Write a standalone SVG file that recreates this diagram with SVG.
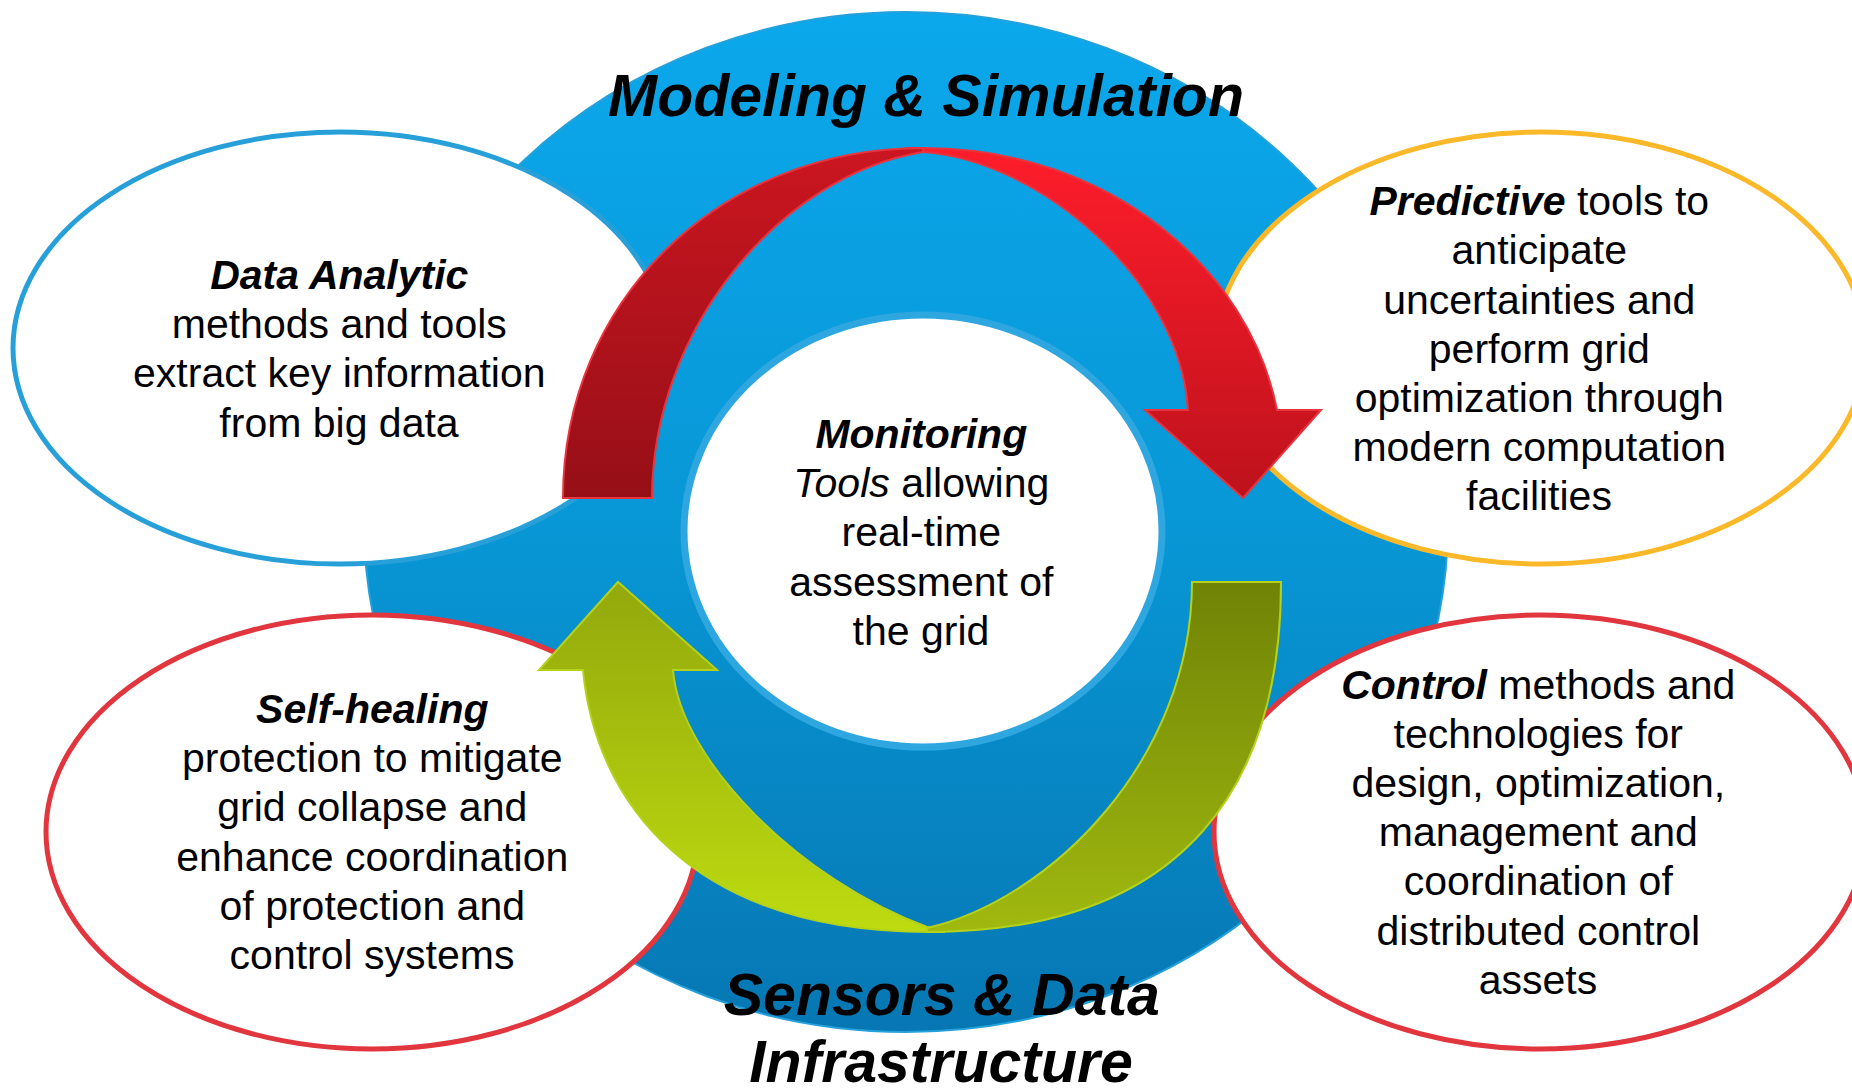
<svg xmlns="http://www.w3.org/2000/svg" width="1852" height="1090" viewBox="0 0 1852 1090">
  <defs>
    <linearGradient id="ringFill" x1="0" y1="0" x2="0" y2="1">
      <stop offset="0" stop-color="#0ba8ec"/>
      <stop offset="0.5" stop-color="#0897d6"/>
      <stop offset="1" stop-color="#0677b3"/>
    </linearGradient>
    <linearGradient id="redMain" gradientUnits="userSpaceOnUse" x1="0" y1="148" x2="0" y2="498">
      <stop offset="0" stop-color="#ff1d2b"/>
      <stop offset="1" stop-color="#bd121c"/>
    </linearGradient>
    <linearGradient id="redBack" gradientUnits="userSpaceOnUse" x1="0" y1="148" x2="0" y2="498">
      <stop offset="0" stop-color="#cb1620"/>
      <stop offset="1" stop-color="#960f17"/>
    </linearGradient>
    <linearGradient id="greenMain" gradientUnits="userSpaceOnUse" x1="0" y1="582" x2="0" y2="932">
      <stop offset="0" stop-color="#93a80c"/>
      <stop offset="1" stop-color="#bddb10"/>
    </linearGradient>
    <linearGradient id="greenBack" gradientUnits="userSpaceOnUse" x1="0" y1="582" x2="0" y2="932">
      <stop offset="0" stop-color="#708306"/>
      <stop offset="1" stop-color="#a0b90f"/>
    </linearGradient>
    <style>
      .bubble { fill: #ffffff; stroke-width: 5; }
      .body { font-family: "Liberation Sans", Arial, sans-serif; font-size: 41px; fill: #000000; text-anchor: middle; }
      .key { font-weight: bold; font-style: italic; }
      .it { font-style: italic; }
      .title { font-family: "Liberation Sans", Arial, sans-serif; font-size: 59px; font-weight: bold; font-style: italic; fill: #000000; text-anchor: middle; }
      .red-edge { stroke: #e8343f; stroke-width: 2; stroke-linejoin: miter; }
      .green-edge { stroke: #b4d21c; stroke-width: 2; stroke-linejoin: miter; }
    </style>
  </defs>

  <rect width="1852" height="1090" fill="#ffffff"/>

  <!-- blue ring behind everything -->
  <g id="ring">
    <ellipse cx="906" cy="522" rx="542" ry="510" fill="url(#ringFill)" stroke="#25a0db" stroke-width="2"/>
  </g>

  <g id="node-monitoring">
    <ellipse cx="923" cy="531" rx="239" ry="216" fill="#ffffff" stroke="#2ea6df" stroke-width="7"/>
    <text class="body">
      <tspan x="927" y="448" class="key">Monitoring</tspan>
      <tspan x="927" y="497"><tspan class="it">Tools</tspan> allowing</tspan>
      <tspan x="927" y="546">real-time</tspan>
      <tspan x="927" y="596">assessment of</tspan>
      <tspan x="921" y="645">the grid</tspan>
    </text>
  </g>

  <g id="node-data-analytic">
    <ellipse class="bubble" cx="340" cy="348" rx="327" ry="216" stroke="#27a0d9"/>
    <text class="body">
      <tspan x="345" y="289" class="key">Data Analytic</tspan>
      <tspan x="345" y="338">methods and tools</tspan>
      <tspan x="345" y="387">extract key information</tspan>
      <tspan x="339" y="437">from big data</tspan>
    </text>
  </g>

  <g id="node-predictive">
    <ellipse class="bubble" cx="1541" cy="348" rx="325" ry="216" stroke="#fbb829"/>
    <text class="body">
      <tspan x="1545" y="215"><tspan class="key">Predictive</tspan> tools to</tspan>
      <tspan x="1545" y="264">anticipate</tspan>
      <tspan x="1545" y="314">uncertainties and</tspan>
      <tspan x="1545" y="363">perform grid</tspan>
      <tspan x="1545" y="412">optimization through</tspan>
      <tspan x="1545" y="461">modern computation</tspan>
      <tspan x="1539" y="510">facilities</tspan>
    </text>
  </g>

  <g id="node-self-healing">
    <ellipse class="bubble" cx="372" cy="832" rx="326" ry="217" stroke="#e2363f"/>
    <text class="body">
      <tspan x="378" y="723" class="key">Self-healing</tspan>
      <tspan x="378" y="772">protection to mitigate</tspan>
      <tspan x="378" y="821">grid collapse and</tspan>
      <tspan x="378" y="871">enhance coordination</tspan>
      <tspan x="378" y="920">of protection and</tspan>
      <tspan x="372" y="969">control systems</tspan>
    </text>
  </g>

  <g id="node-control">
    <ellipse class="bubble" cx="1540" cy="832" rx="326" ry="217" stroke="#e2363f"/>
    <text class="body">
      <tspan x="1544" y="699"><tspan class="key">Control</tspan> methods and</tspan>
      <tspan x="1544" y="748">technologies for</tspan>
      <tspan x="1544" y="797">design, optimization,</tspan>
      <tspan x="1544" y="846">management and</tspan>
      <tspan x="1544" y="895">coordination of</tspan>
      <tspan x="1544" y="945">distributed control</tspan>
      <tspan x="1538" y="994">assets</tspan>
    </text>
  </g>

  <!-- curved arrows around the hub -->
  <g id="connectors">
    <g id="arrow-red">
      <path class="red-edge" fill="url(#redMain)" d="M 905 148 L 923 148 C 1110 148 1250 270 1277 410 L 1321 410 L 1243 498 L 1145 410 L 1188 410 C 1180 280 1040 160 923 152 Z"/>
      <path class="red-edge" fill="url(#redBack)" d="M 563 498 C 563 300 720 148 923 148 L 923 152 C 780 175 652 330 652 498 Z"/>
    </g>
    <g id="arrow-green">
      <path class="green-edge" fill="url(#greenMain)" d="M 583 670 C 595 800 690 932 930 932 L 945 932 L 927 927 C 800 880 680 760 673 670 L 717 670 L 618 582 L 539 670 Z"/>
      <path class="green-edge" fill="url(#greenBack)" d="M 1281 582 C 1281 780 1190 932 927 932 L 927 928 C 1050 900 1192 760 1192 582 Z"/>
    </g>
  </g>

  <g id="ring-labels">
    <text class="title" x="926" y="116">Modeling &amp; Simulation</text>
    <text class="title">
      <tspan x="950" y="1015">Sensors &amp; Data</tspan>
      <tspan x="941" y="1082">Infrastructure</tspan>
    </text>
  </g>
</svg>
